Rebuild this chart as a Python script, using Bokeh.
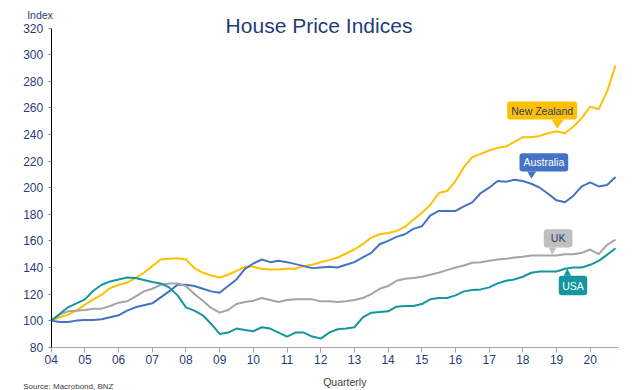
import numpy as np
from bokeh.plotting import figure
from bokeh.models import Range1d, FixedTicker
from bokeh.core.properties import value
from bokeh.embed import file_html
from bokeh.resources import INLINE

# ---------------- data (quarterly, 2004Q1 .. 2020Q4) ----------------
start_year = 2004
n_quarters = 68
quarters = start_year + 0.25 * np.arange(n_quarters)

new_zealand = [100, 102.5, 104.5, 107.5, 112, 116, 119.5, 124.5, 127, 128.5, 132, 136,
               141, 146, 146.5, 147, 146, 139.5, 136, 134, 132.5, 134.5, 137.5, 140.5,
               140.5, 139, 138.5, 138.5, 139, 139, 141, 142, 144, 145.5, 147.5, 150.5,
               153.5, 157.5, 162.5, 165, 166, 167.5, 170.5, 176, 181, 187, 196, 197.5,
               205, 215.5, 223, 225.5, 228, 230, 231, 234.5, 238, 238, 239, 241,
               242.5, 241, 246, 252.5, 261, 259, 272.5, 292]
australia = [100, 99, 99, 100, 100.5, 100.5, 101, 102.5, 104, 107.5, 110, 111.5,
             113, 117.5, 122, 127, 127, 126, 124, 122, 121, 126, 131, 139,
             143, 146, 144, 145, 144, 142.5, 141, 139.5, 140, 140.5, 140, 142,
             144, 147.5, 151, 157.5, 160, 163, 165, 169, 171, 179, 182.5, 182.5,
             182.5, 186, 189, 196, 200, 205, 204.5, 206, 205, 203, 200, 195.5,
             190.5, 189, 194, 201, 204, 201, 202, 208]
uk = [100, 104.5, 107, 107.5, 108, 109, 109, 111, 113.5, 114.5, 118, 122,
      124, 127, 128, 128, 126, 120, 115, 109.5, 106, 108, 112.5, 114,
      115, 117, 115.5, 114, 115.5, 116, 116, 116, 114.5, 114.5, 114, 114.5,
      115.5, 117, 120, 124, 126, 130, 131.5, 132, 133, 134.5, 136, 138,
      140, 141.5, 143.5, 144, 145, 146, 146.5, 147.5, 148, 149, 149, 149,
      149, 150, 150, 151, 153.5, 150, 157, 161]
usa = [100, 105, 110, 113, 116, 122.5, 127, 129.5, 131, 132.5, 132, 130.5,
       129, 128, 125, 119, 110, 107.5, 104, 97.5, 90, 91, 94, 93,
       92, 95, 94, 91, 88, 91, 91, 88, 86.5, 91, 93.5, 94,
       95, 102.5, 106, 106.5, 107, 110.5, 111, 111, 112.5, 116, 117, 117,
       119, 122, 123, 123.5, 125, 128, 130, 131, 133, 136, 137, 137,
       137, 139, 140, 140, 142, 145, 149.5, 154.5]

year_ticks = list(range(2004, 2021))
year_labels = {y: f"{y % 100:02d}" for y in year_ticks}
y_ticks = list(range(80, 321, 20))

series_names = ["New Zealand", "Australia", "UK", "USA"]
series_values = [new_zealand, australia, uk, usa]
series_colors = ["#FFC000", "#4472C4", "#A5A5A5", "#13969E"]

# ---------------- layout (pixel -> data helpers) ----------------
W, H = 637, 390
PX_X0, PX_PER_YEAR = 50.7, 33.69     # x pixel of 2004 and pixels per year
PX_Y80, PX_PER_UNIT = 346.7, 1.329   # y pixel of index 80 and pixels per index point
X_END = 2004 + (617.7 - PX_X0) / PX_PER_YEAR

def wx(x):
    return 2004 + (x - PX_X0) / PX_PER_YEAR

def wy(y):
    return 80 + (PX_Y80 - y) / PX_PER_UNIT

NAVY = "#1F3D7A"
FONT = "Liberation Sans"

p = figure(width=W, height=H, output_backend="svg", toolbar_location=None,
           x_range=Range1d(wx(0), wx(W)), y_range=Range1d(wy(H), wy(0)),
           min_border_left=0, min_border_right=0, min_border_top=0, min_border_bottom=0)
p.outline_line_color = None
p.xgrid.visible = False
p.ygrid.visible = False
p.background_fill_color = "white"
p.border_fill_color = "white"

p.yaxis.fixed_location = 2004
p.yaxis.bounds = (80, 320)
p.yaxis.ticker = FixedTicker(ticks=y_ticks)
p.yaxis.axis_line_color = "#000000"
p.yaxis.axis_line_width = 1
p.yaxis.major_tick_line_color = "#7F7F7F"
p.yaxis.major_tick_in = 0
p.yaxis.major_tick_out = 3
p.yaxis.minor_tick_line_color = None
p.yaxis.major_label_text_color = NAVY
p.yaxis.major_label_text_font = FONT
p.yaxis.major_label_text_font_size = "12px"
p.yaxis.major_label_standoff = 5

p.xaxis.fixed_location = 80
p.xaxis.bounds = (2004, X_END)
p.xaxis.ticker = FixedTicker(ticks=year_ticks)
p.xaxis.major_label_overrides = year_labels
p.xaxis.axis_line_color = "#A6A6A6"
p.xaxis.major_tick_line_color = "#A6A6A6"
p.xaxis.major_tick_in = 0
p.xaxis.major_tick_out = 5
p.xaxis.minor_tick_line_color = None
p.xaxis.major_label_text_color = NAVY
p.xaxis.major_label_text_font = FONT
p.xaxis.major_label_text_font_size = "12px"
p.xaxis.major_label_standoff = 3

for name, vals, col in zip(series_names, series_values, series_colors):
    p.line(quarters, vals, line_color=col, line_width=2)

# ---------------- callouts ----------------
callouts = [
    # text, box (l, t, r, b) in px, pointer (base l, base r, apex x, apex y), fill, text colour
    ("New Zealand", (506.7, 101, 576.7, 119), (551, 563.3, 556.7, 128.3), "#FFC000", NAVY),
    ("Australia", (519, 152.7, 567.7, 171), (526.7, 535.7, 531, 178.3), "#4472C4", "white"),
    ("UK", (543.3, 228.7, 572, 247), (548.3, 556, 551.7, 254.3), "#BFBFBF", NAVY),
    ("USA", (558.3, 275.3, 586.7, 294.7), (563.3, 570.7, 566.7, 268), "#13969E", "white"),
]
for txt, (l, t, r, b), (bl, br, ax, ay), fill, tcol in callouts:
    p.quad(left=[wx(l)], right=[wx(r)], top=[wy(t)], bottom=[wy(b)],
           fill_color=fill, line_color=None, border_radius=3)
    base_y = b if ay > b else t
    p.patch([wx(bl), wx(br), wx(ax)], [wy(base_y), wy(base_y), wy(ay)],
            fill_color=fill, line_color=None)
    p.text(x=[wx((l + r) / 2)], y=[wy((t + b) / 2)], text=[txt],
           text_align="center", text_baseline="middle", text_color=tcol,
           text_font=value(FONT), text_font_size="10.5px")

# ---------------- other texts ----------------
def add_text(x, y, txt, size, color, align="left"):
    p.text(x=[wx(x)], y=[wy(y)], text=[txt], text_align=align,
           text_baseline="alphabetic", text_color=color,
           text_font=value(FONT), text_font_size=size)

add_text(318.5, 25, "House Price Indices", "21px", NAVY, "center")
add_text(39.5, 14, "Index", "10.5px", NAVY, "center")
add_text(322.7, 381, "Quarterly", "10.5px", "#404040")
add_text(22.7, 386, "Source: Macrobond, BNZ", "8px", "#404040")

open("out.html", "w").write(file_html(p, INLINE))
